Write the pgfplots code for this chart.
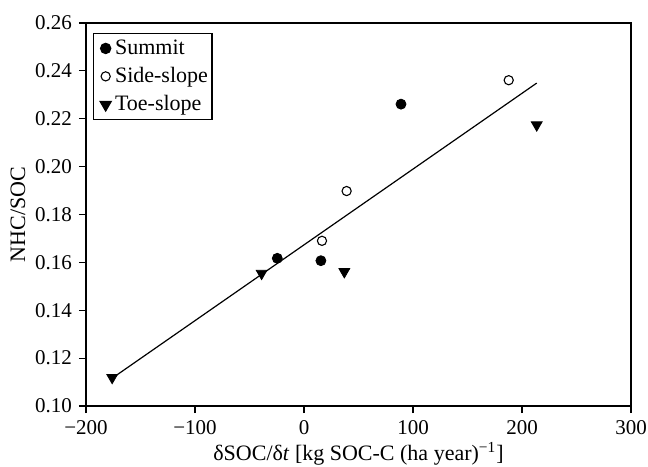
\documentclass[border=0pt]{standalone}
\usepackage{fontspec}
\setmainfont{Liberation Serif}
\usepackage{pgfplots}
\pgfplotsset{compat=1.18}

\newcommand{\tickfont}{\fontsize{10.5}{12.6}\selectfont}
\newcommand{\labelfont}{\fontsize{11}{13.2}\selectfont}

\begin{document}
\begin{tikzpicture}
\begin{axis}[
  name=ax,
  scale only axis,
  width=272.5pt, height=191.5pt,
  xmin=-200, xmax=300,
  ymin=0.10, ymax=0.26,
  xtick={-200,-100,0,100,200,300},
  xticklabels={−200,−100,0,100,200,300},
  ytick={0.10,0.12,0.14,0.16,0.18,0.20,0.22,0.24,0.26},
  yticklabels={0.10,0.12,0.14,0.16,0.18,0.20,0.22,0.24,0.26},
  tick align=outside,
  xtick pos=left, ytick pos=left,
  major tick length=3.5pt,
  axis line style={line width=0.7pt},
  every tick/.style={black, line width=0.6pt},
  every tick label/.append style={font=\tickfont},
  label style={font=\labelfont},
  xlabel={δSOC/δ\textit{t} [kg SOC-C (ha year)\textsuperscript{−1}]},
  ylabel={NHC/SOC},
  xlabel shift=-3pt,
  ylabel shift=-2pt,
  legend style={
    at={(axis description cs:0.0128,0.974)}, anchor=north west,
    draw=black, line width=0.7pt, font=\labelfont,
    inner xsep=0pt, inner ysep=1pt, row sep=1pt,
  },
  legend cell align=left,
  legend image code/.code={%
    \path[draw=none, fill=none] (0pt,0pt) -- (8.4pt,0pt);
    \draw[#1, only marks] plot coordinates {(6pt,0pt)};
  },
]
  % Summit
  \addplot[only marks, mark=*, mark size=2.5pt, black] coordinates {
    (-24.5,0.1617) (15.5,0.1607) (89,0.2261)
  };
  \addlegendentry{Summit}
  % Side-slope
  \addplot[only marks, mark=o, mark size=2.3pt, black, mark options={fill=white, line width=0.55pt}] coordinates {
    (16.5,0.1690) (39.1,0.1898) (187.8,0.2361)
  };
  \addlegendentry{Side-slope}
  % Toe-slope
  \addplot[only marks, mark=triangle*, mark size=3.1pt, black, mark options={rotate=180}] coordinates {
    (-176,0.1119) (-38.9,0.1554) (37,0.1561) (213.5,0.2174)
  };
  \addlegendentry{Toe-slope}
  % Linear fit
  \addplot[black, line width=0.6pt, no marks, forget plot] coordinates {
    (-176,0.1116) (213.5,0.2349)
  };
\end{axis}
\pgfresetboundingbox
\path[use as bounding box] ([shift={(-43pt,-30pt)}]ax.south west) rectangle ([shift={(8.5pt,11.5pt)}]ax.north east);
\end{tikzpicture}
\end{document}
